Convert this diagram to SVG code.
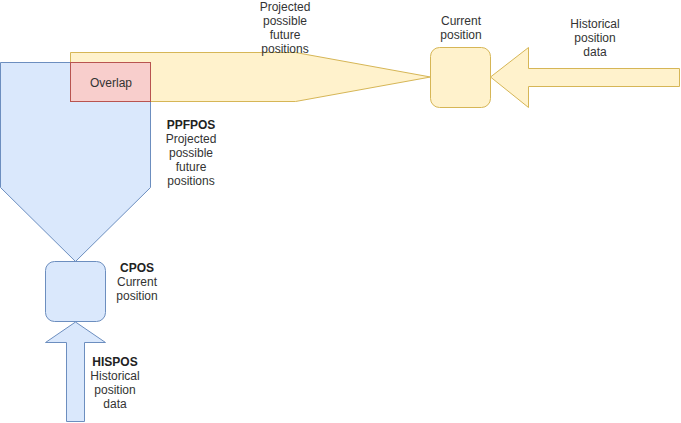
<svg xmlns="http://www.w3.org/2000/svg" width="681" height="423" viewBox="0 0 681 423">
<style>
.blue{fill:#dae8fc;stroke:#6c8ebf;stroke-width:1}
.yellow{fill:#fff2cc;stroke:#d6b656;stroke-width:1}
.red{fill:#f8cecc;stroke:#b85450;stroke-width:1}
text{font-family:"Liberation Sans",Arial,sans-serif;font-size:12px;fill:#333;text-anchor:middle}
.b{font-weight:bold;fill:#222}
</style>
<rect width="681" height="423" fill="#fff"/>
<g id="ppfpos">
<polygon class="blue" points="0.5,62.5 150.5,62.5 150.5,187.5 75.5,261.5 0.5,187.5"/>
<text x="191" y="129" class="b">PPFPOS</text>
<text x="191" y="143">Projected</text>
<text x="191" y="157">possible</text>
<text x="191" y="171">future</text>
<text x="191" y="185">positions</text>
</g>
<g id="proj">
<polygon class="yellow" points="70.5,52.5 295.5,52.5 430.5,77 295.5,101.5 70.5,101.5"/>
<text x="285" y="11">Projected</text>
<text x="285" y="25">possible</text>
<text x="285" y="39">future</text>
<text x="285" y="53">positions</text>
</g>
<g id="overlap">
<rect class="red" x="70.5" y="62.5" width="80" height="39"/>
<text x="111" y="87">Overlap</text>
</g>
<g id="cur">
<rect class="yellow" x="430.5" y="47.5" width="60" height="60" rx="9"/>
<text x="461" y="25">Current</text>
<text x="461" y="39">position</text>
</g>
<g id="hist">
<polygon class="yellow" points="490.5,77 528.5,47.5 528.5,68.5 679.5,68.5 679.5,86.5 528.5,86.5 528.5,107.5"/>
<text x="595" y="28">Historical</text>
<text x="595" y="42">position</text>
<text x="595" y="56">data</text>
</g>
<g id="cpos">
<rect class="blue" x="45.5" y="261.5" width="60" height="60" rx="9"/>
<text x="137" y="272" class="b">CPOS</text>
<text x="137" y="286">Current</text>
<text x="137" y="300">position</text>
</g>
<g id="hispos">
<polygon class="blue" points="75.5,322 105.5,342.5 84.5,342.5 84.5,421.5 66.5,421.5 66.5,342.5 45.5,342.5"/>
<text x="115" y="366" class="b">HISPOS</text>
<text x="115" y="380">Historical</text>
<text x="115" y="394">position</text>
<text x="115" y="408">data</text>
</g>
<g id="connectors"></g>
</svg>
